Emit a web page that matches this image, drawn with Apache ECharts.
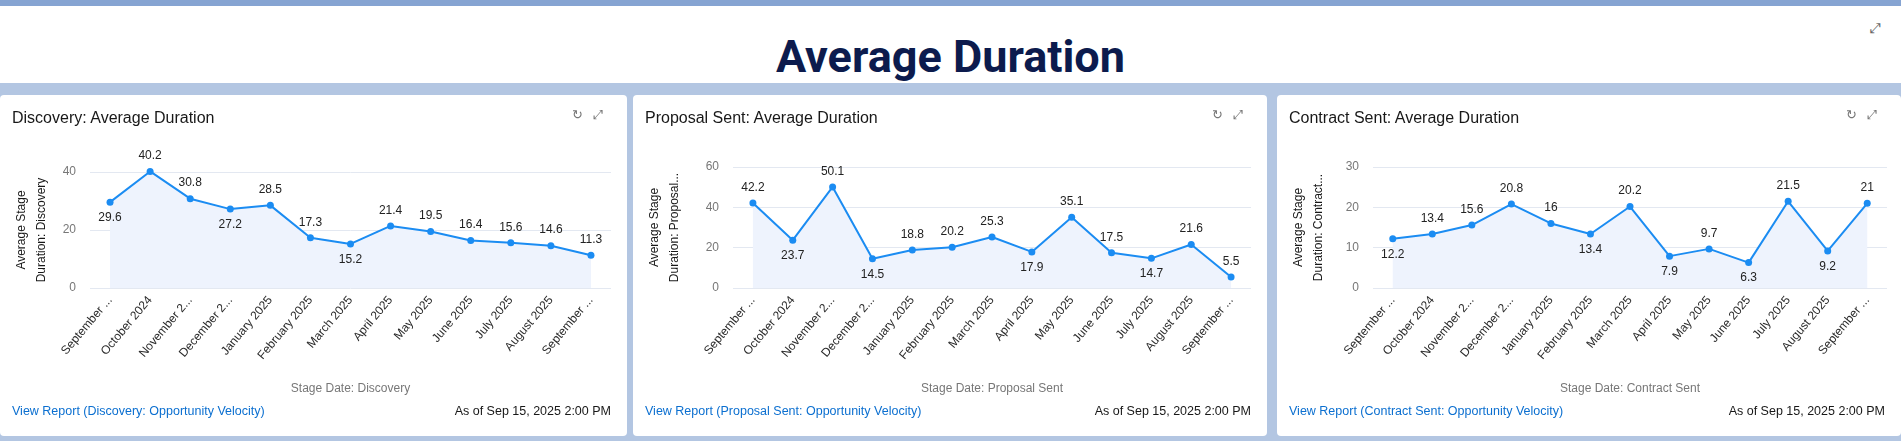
<!DOCTYPE html>
<html>
<head>
<meta charset="utf-8">
<script src="https://cdn.jsdelivr.net/npm/echarts@6/dist/echarts.min.js"></script>
<style>
body { margin:0; width:1901px; height:441px; background:#b3c6e2; font-family:"Liberation Sans", Arial, sans-serif; overflow:hidden; position:relative; }
#topstrip { position:absolute; left:0; top:0; width:1901px; height:6px; background:#86a4d2; }
#header { position:absolute; left:0; top:6px; width:1901px; height:77px; background:#fff; }
#header h1 { margin:0; position:absolute; left:0; width:1901px; top:27px; text-align:center; font-size:45px; line-height:48px; font-weight:bold; color:#0c1b4d; font-family:"Roboto","Liberation Sans",sans-serif; }
#header .ic { position:absolute; right:20px; top:14px; color:#666; font-size:14px; }
.panel { position:absolute; top:95px; height:341px; background:#fff; border-radius:4px; }
.panel .chart { position:absolute; left:0; top:0; width:100%; height:100%; }
.ptitle { position:absolute; left:12px; top:110px; font-size:16px; color:#181818; }
.icons { position:absolute; right:14px; top:12px; color:#777; font-size:13px; letter-spacing:10px; }
.link { position:absolute; left:12px; top:311px; font-size:12.5px; color:#0b6fd0; }
.asof { position:absolute; right:16px; top:311px; font-size:12.5px; color:#181818; }
</style>
</head>
<body>
<div id="topstrip"></div>
<div id="header"><h1>Average Duration</h1><span class="ic">⤢</span></div>
<div id="panels"></div>
<script>
var categories = ['September 2024','October 2024','November 2024','December 2024','January 2025','February 2025','March 2025','April 2025','May 2025','June 2025','July 2025','August 2025','September 2025'];
var discoveryValues = [29.6,40.2,30.8,27.2,28.5,17.3,15.2,21.4,19.5,16.4,15.6,14.6,11.3];
var proposalValues = [42.2,23.7,50.1,14.5,18.8,20.2,25.3,17.9,35.1,17.5,14.7,21.6,5.5];
var contractValues = [12.2,13.4,15.6,20.8,16,13.4,20.2,7.9,9.7,6.3,21.5,9.2,21];
var discoveryTicks = [0,20,40];
var proposalTicks = [0,20,40,60];
var contractTicks = [0,10,20,30];

var panels = [
	{ left:0, width:627, title:'Discovery: Average Duration', yName:'Average Stage\nDuration: Discovery', xName:'Stage Date: Discovery',
	  link:'View Report (Discovery: Opportunity Velocity)', values:discoveryValues, ticks:discoveryTicks, grid:{left:90, right:16, top:172, height:116} },
	{ left:633, width:634, title:'Proposal Sent: Average Duration', yName:'Average Stage\nDuration: Proposal...', xName:'Stage Date: Proposal Sent',
	  link:'View Report (Proposal Sent: Opportunity Velocity)', values:proposalValues, ticks:proposalTicks, grid:{left:100, right:16, top:167, height:121} },
	{ left:1277, width:624, title:'Contract Sent: Average Duration', yName:'Average Stage\nDuration: Contract...', xName:'Stage Date: Contract Sent',
	  link:'View Report (Contract Sent: Opportunity Velocity)', values:contractValues, ticks:contractTicks, grid:{left:96, right:14, top:167, height:121} }
];

function labelPos(vals, i) {
	if (i == vals.length - 1) return 'top';
	var lowPrev = i == 0 || vals[i] < vals[i-1];
	var lowNext = vals[i] < vals[i+1];
	return (lowPrev && lowNext) ? 'bottom' : 'top';
}

var container = document.getElementById('panels');
panels.forEach(function(p) {
	var div = document.createElement('div');
	div.className = 'panel';
	div.style.left = p.left + 'px';
	div.style.width = p.width + 'px';
	div.innerHTML = '<div class="chart"></div>' +
		'<div class="ptitle" style="top:14px">' + p.title + '</div>' +
		'<div class="icons">↻⤢</div>' +
		'<div class="link" style="top:309px">' + p.link + '</div>' +
		'<div class="asof" style="top:309px">As of Sep 15, 2025 2:00 PM</div>';
	container.appendChild(div);

	var t = p.ticks;
	var step = t[1] - t[0];
	var chart = echarts.init(div.querySelector('.chart'));
	var g = p.grid;
	chart.setOption({
		animation: false,
		grid: { left:g.left, right:g.right, top:g.top - 95, height:g.height },
		xAxis: {
			type:'category', data:categories, boundaryGap:true,
			axisLine:{show:false}, axisTick:{show:false},
			axisLabel:{ rotate:50, interval:0, fontSize:12, color:'#2b2b2b', width:80, overflow:'truncate', ellipsis:'...', margin:10 },
			name:p.xName, nameLocation:'middle', nameGap:95, nameTextStyle:{ color:'#777', fontSize:12 }
		},
		yAxis: {
			type:'value', min:t[0], max:t[t.length-1], interval:step,
			axisLabel:{ color:'#777', fontSize:12, margin:14 },
			splitLine:{ lineStyle:{ color:'#e3e8f1' } },
			name:p.yName, nameLocation:'middle', nameGap:g.left - 52, nameRotate:90,
			nameTextStyle:{ color:'#181818', fontSize:12, lineHeight:20, align:'center' }
		},
		series: [{
			type:'line', clip:false,
			data:p.values.map(function(v, i) {
				return { value:v, label:{ position:labelPos(p.values, i) } };
			}),
			symbol:'circle', symbolSize:7,
			lineStyle:{ color:'#1b8cf2', width:2 },
			itemStyle:{ color:'#1b8cf2' },
			areaStyle:{ color:'#eef3fd', opacity:1 },
			label:{ show:true, color:'#222', fontSize:12, distance:6 }
		}]
	});
});
</script>
</body>
</html>
